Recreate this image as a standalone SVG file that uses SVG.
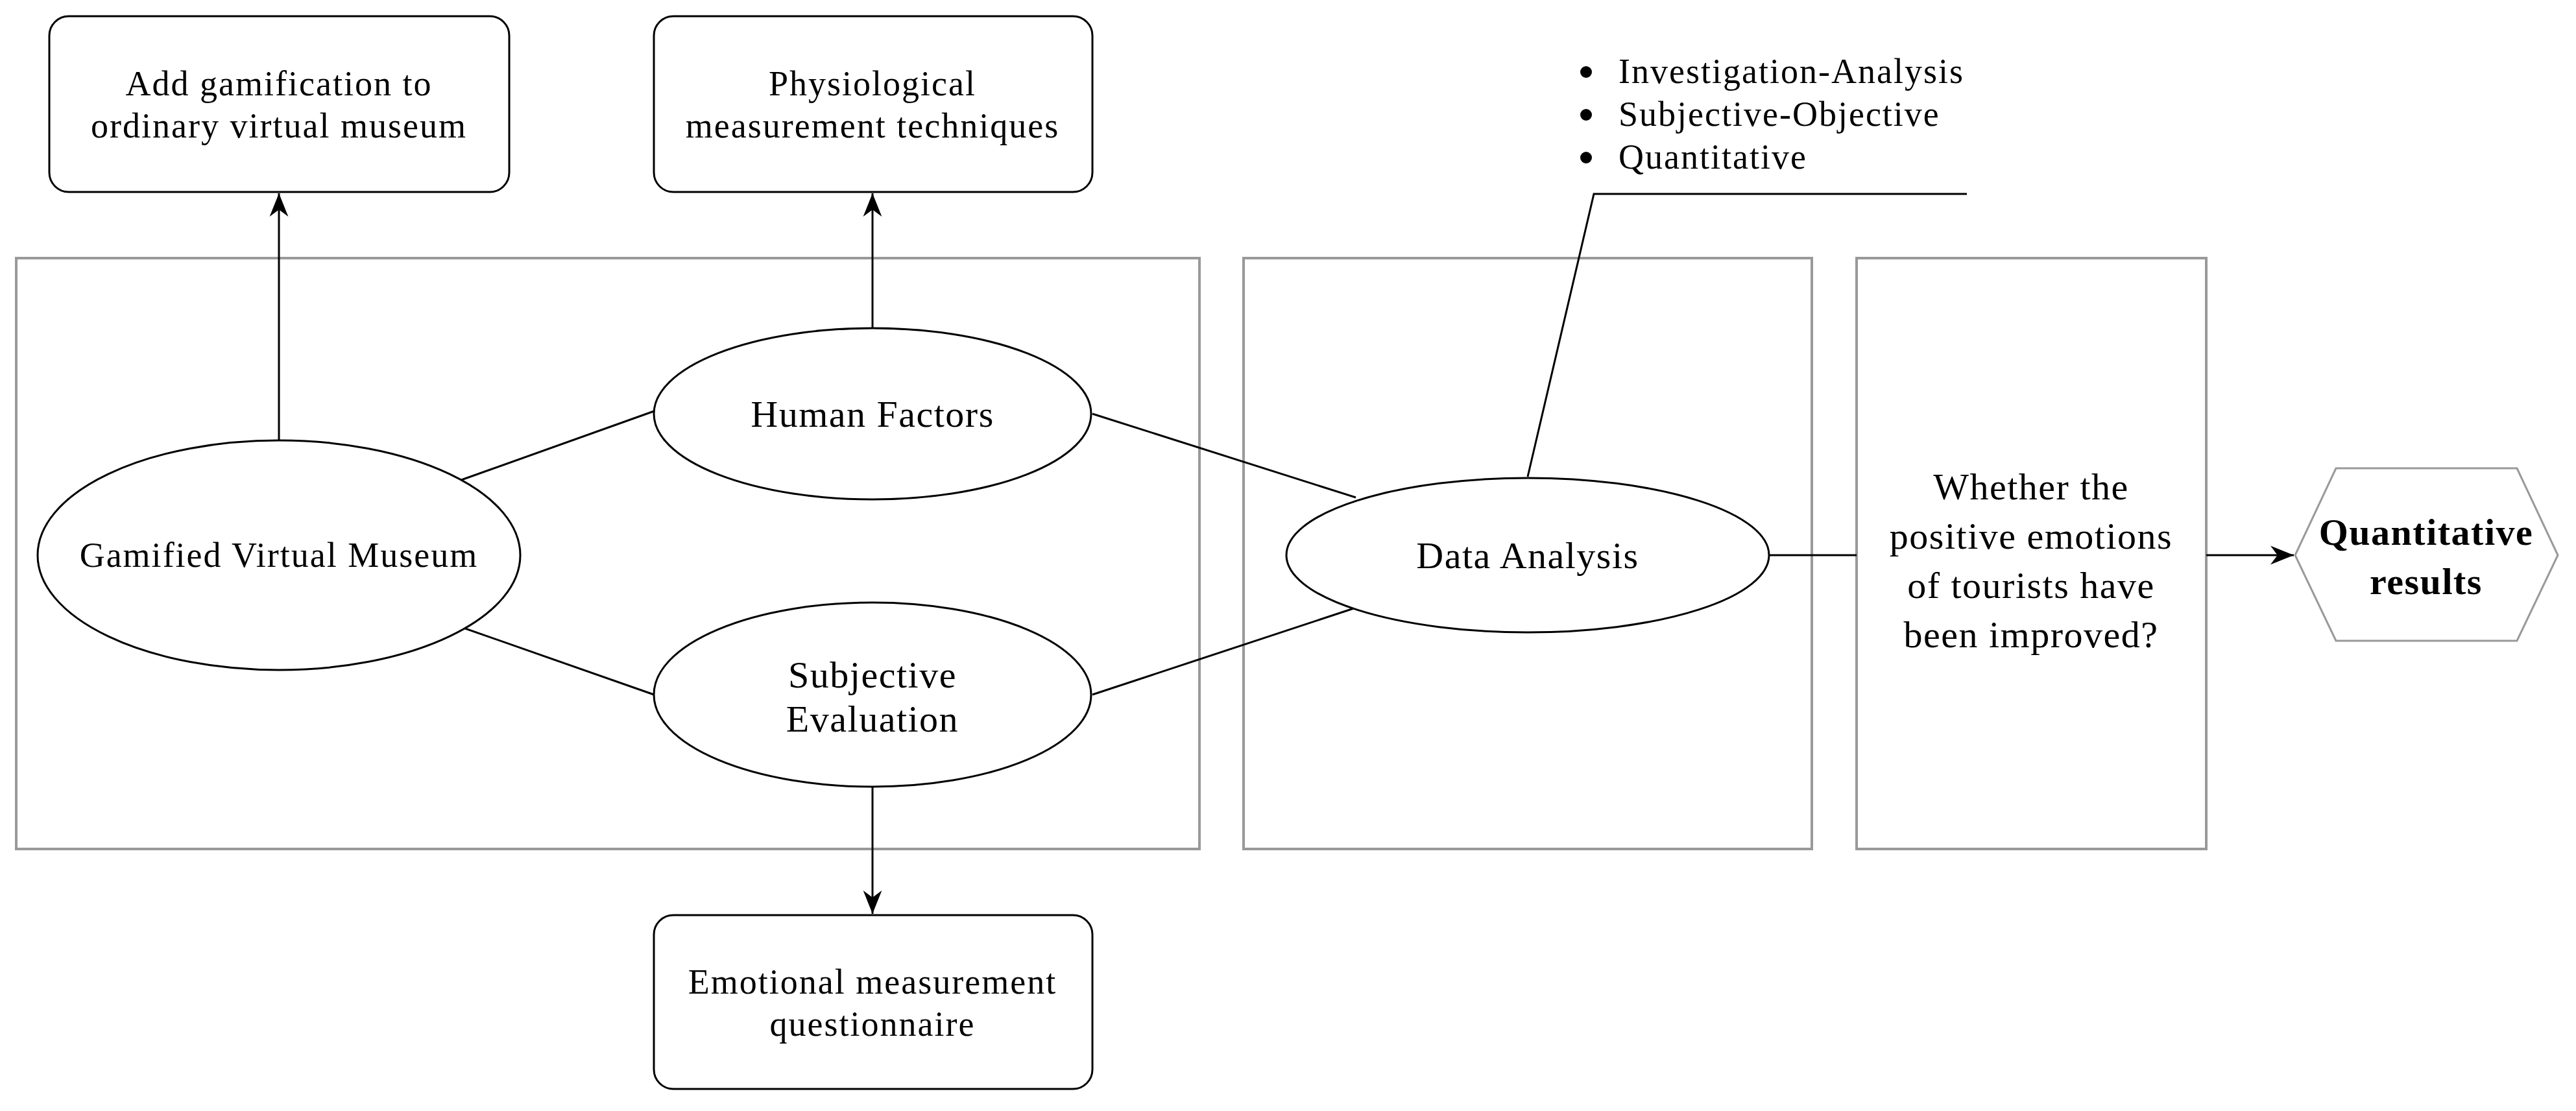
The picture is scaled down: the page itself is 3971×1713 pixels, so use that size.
<svg xmlns="http://www.w3.org/2000/svg" width="3971" height="1713" viewBox="0 0 3971 1713">
<style>
.box{fill:#fff;stroke:#000;stroke-width:3}
.frame{fill:none;stroke:#999;stroke-width:4}
.ell{fill:#fff;stroke:#000;stroke-width:3}
.ln{fill:none;stroke:#000;stroke-width:3}
text{font-family:"Liberation Serif","DejaVu Serif",serif;fill:#000;text-anchor:middle}
.t{font-size:54px;letter-spacing:2px}
.tl{font-size:58px;letter-spacing:1.5px}
</style>
<defs>
<marker id="a" viewBox="0 0 10 10" refX="10" refY="5" markerWidth="36" markerHeight="36" markerUnits="userSpaceOnUse" orient="auto">
<path d="M0,1 L10,5 L0,9 L3,5 Z" fill="#000"/>
</marker>
</defs>
<rect width="3971" height="1713" fill="#fff"/>
<g id="frames">
<rect class="frame" x="25" y="398" width="1824" height="911"/>
<rect class="frame" x="1917" y="398" width="876" height="911"/>
<rect class="frame" x="2862" y="398" width="539" height="911"/>
</g>
<g id="connectors">
<line class="ln" x1="430" y1="702" x2="430" y2="298" marker-end="url(#a)"/>
<line class="ln" x1="1345" y1="506" x2="1345" y2="298" marker-end="url(#a)"/>
<line class="ln" x1="1345" y1="1213" x2="1345" y2="1409" marker-end="url(#a)"/>
<line class="ln" x1="697" y1="745" x2="1008" y2="634"/>
<line class="ln" x1="697" y1="962" x2="1008" y2="1071"/>
<line class="ln" x1="1684" y1="638" x2="2090" y2="767"/>
<line class="ln" x1="1684" y1="1071" x2="2090" y2="937"/>
<line class="ln" x1="2727" y1="856" x2="2862" y2="856"/>
<line class="ln" x1="3401" y1="856" x2="3536" y2="856" marker-end="url(#a)"/>
<polyline class="ln" points="2355,735 2457,299 3032,299"/>
</g>
<g id="n-gamification">
<rect class="box" x="76" y="25" width="709" height="271" rx="30"/>
<text class="t" x="430" y="147">Add gamification to</text>
<text class="t" x="430" y="212">ordinary virtual museum</text>
</g>
<g id="n-physio">
<rect class="box" x="1008" y="25" width="676" height="271" rx="30"/>
<text class="t" x="1345" y="147">Physiological</text>
<text class="t" x="1345" y="212">measurement techniques</text>
</g>
<g id="n-emotional">
<rect class="box" x="1008" y="1411" width="676" height="268" rx="30"/>
<text class="t" x="1345" y="1532">Emotional measurement</text>
<text class="t" x="1345" y="1597">questionnaire</text>
</g>
<g id="n-gvm">
<ellipse class="ell" cx="430" cy="856" rx="372" ry="177"/>
<text class="t" x="430" y="874">Gamified Virtual Museum</text>
</g>
<g id="n-human">
<ellipse class="ell" cx="1345" cy="638" rx="337" ry="132"/>
<text class="tl" x="1345" y="658">Human Factors</text>
</g>
<g id="n-subj">
<ellipse class="ell" cx="1345" cy="1071" rx="337" ry="142"/>
<text class="tl" x="1345" y="1060">Subjective</text>
<text class="tl" x="1345" y="1128">Evaluation</text>
</g>
<g id="n-data">
<ellipse class="ell" cx="2355" cy="856" rx="372" ry="119"/>
<text class="tl" x="2355" y="876">Data Analysis</text>
</g>
<g id="n-question">
<text class="tl" x="3131" y="770">Whether the</text>
<text class="tl" x="3131" y="846">positive emotions</text>
<text class="tl" x="3131" y="922">of tourists have</text>
<text class="tl" x="3131" y="998">been improved?</text>
</g>
<g id="n-bullets">
<circle cx="2445" cy="111" r="9"/>
<circle cx="2445" cy="177" r="9"/>
<circle cx="2445" cy="243" r="9"/>
<text class="t" x="2495" y="128" style="text-anchor:start">Investigation-Analysis</text>
<text class="t" x="2495" y="194" style="text-anchor:start">Subjective-Objective</text>
<text class="t" x="2495" y="260" style="text-anchor:start">Quantitative</text>
</g>
<g id="n-results">
<polygon points="3538,856 3601,722 3880,722 3943,856 3880,988 3601,988" fill="#fff" stroke="#999" stroke-width="3"/>
<text class="tl" x="3740" y="840" font-weight="bold">Quantitative</text>
<text class="tl" x="3740" y="916" font-weight="bold">results</text>
</g>
</svg>
